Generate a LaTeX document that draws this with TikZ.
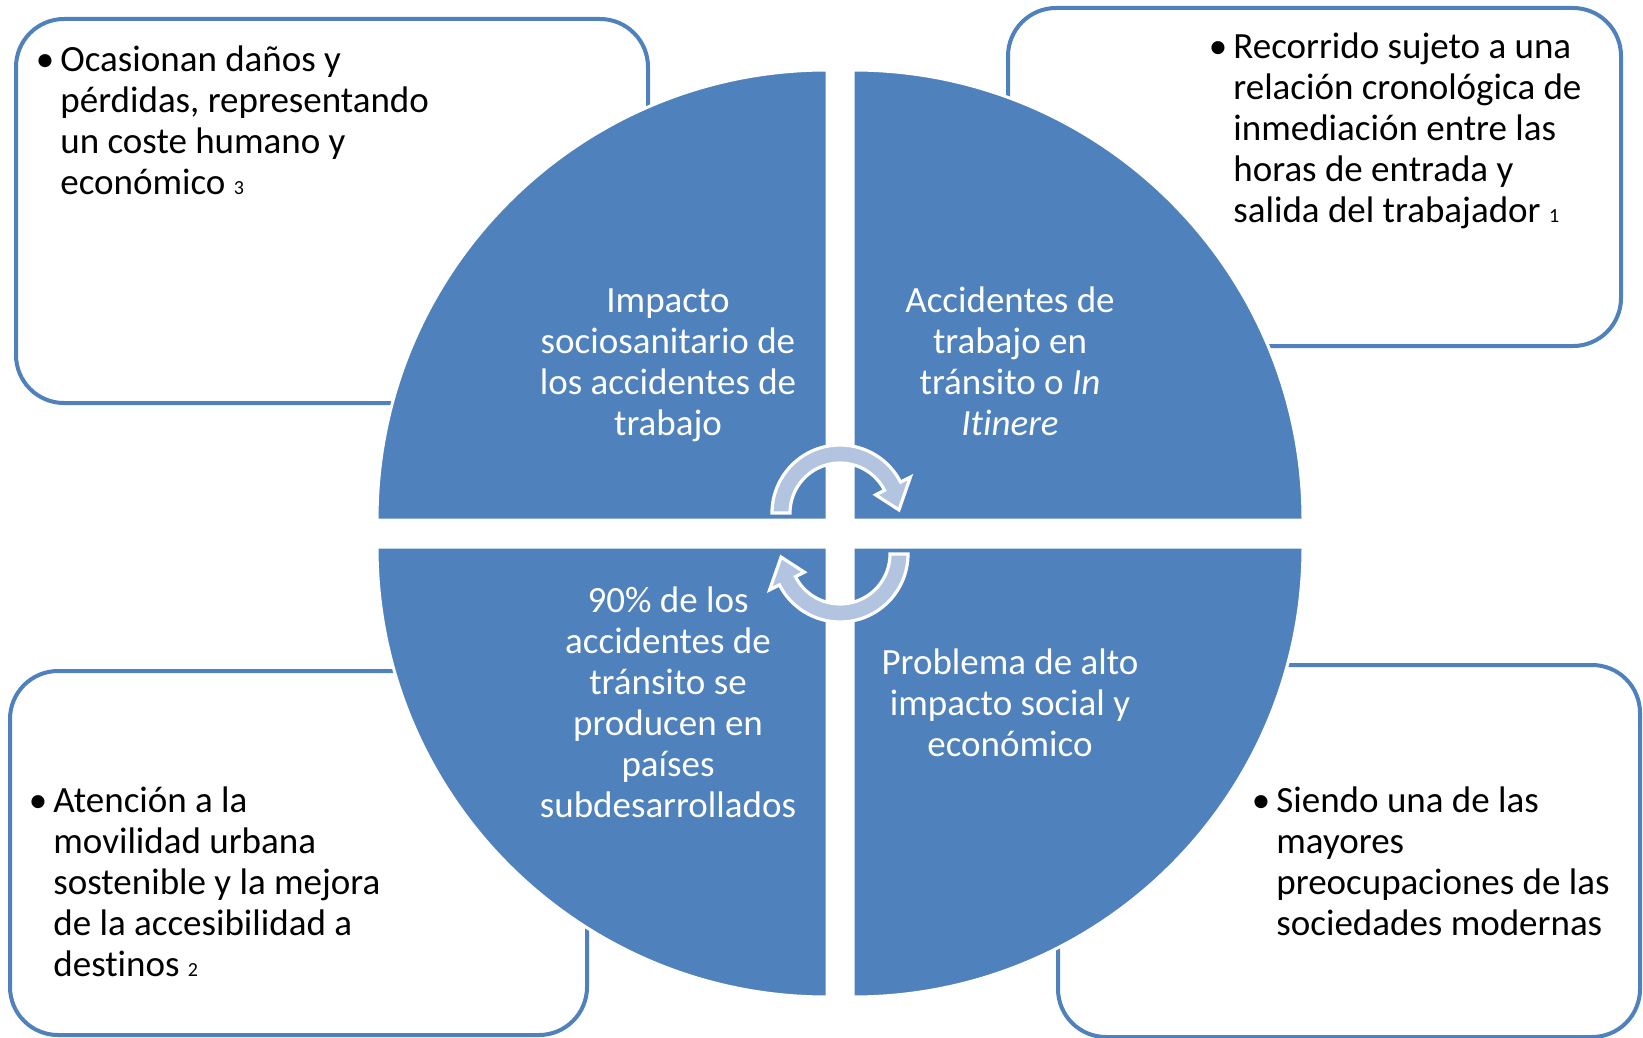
\documentclass[tikz,border=0pt]{standalone}
\usepackage{fontspec}
\setmainfont[Ligatures={NoCommon}]{Carlito}
\definecolor{qblue}{HTML}{4F81BD}
\definecolor{arrowblue}{HTML}{B3C4E0}
\newcommand{\smallnum}[1]{{\fontsize{10}{10}\selectfont #1}}
\newcommand{\bul}{\llap{•\hspace{3pt}}}
\newcommand{\fl}{\rule{0pt}{16pt}}
\begin{document}
\begin{tikzpicture}[x=0.5pt,y=-0.5pt,
  box/.style={draw=qblue, line width=2pt, fill=white, rounded corners=24pt},
  quad/.style={fill=qblue, draw=white, line width=1.5pt},
  cyc/.style={fill=arrowblue, draw=white, line width=1.6pt, line join=miter},
  qtext/.style={text=white, align=center, anchor=north, inner sep=0pt, font=\fontsize{18.5}{20.5}\selectfont},
  btext/.style={text=black, align=left, anchor=north west, inner sep=0pt, font=\fontsize{18.5}{20.5}\selectfont}]

\useasboundingbox[fill=white] (0,0) rectangle (1643,1038);

% outer boxes
\path[box] (16,19) rectangle (648,403);
\path[box] (1008,8) rectangle (1621,346);
\path[box] (10,671) rectangle (587,1035);
\path[box] (1058,665) rectangle (1640,1037);

% quadrants
\path[quad] (827,520) -- (377,520) arc[start angle=180, end angle=270, radius=450] -- cycle;
\path[quad] (853,520) -- (853,70) arc[start angle=270, end angle=360, radius=450] -- cycle;
\path[quad] (827,547) -- (827,997) arc[start angle=90, end angle=180, radius=450] -- cycle;
\path[quad] (853,547) -- (1303,547) arc[start angle=0, end angle=90, radius=450] -- cycle;

% circular arrows
\begin{scope}[shift={(840,513)}]
  \path[cyc] (180:68) arc[start angle=180, end angle=333, radius=68]
    -- (333:79) -- (357:59) -- (333:40) -- (333:50)
    arc[start angle=333, end angle=180, radius=50] -- cycle;
\end{scope}
\begin{scope}[shift={(840,554)}, rotate=180]
  \path[cyc] (180:68) arc[start angle=180, end angle=333, radius=68]
    -- (333:79) -- (357:59) -- (333:40) -- (333:50)
    arc[start angle=333, end angle=180, radius=50] -- cycle;
\end{scope}

% quadrant texts
\node[qtext] (q1) at (668,280) {\fl Impacto\\sociosanitario de\\los accidentes de\\trabajo};
\node[qtext] (q2) at (1010,280) {\fl Accidentes de\\trabajo en\\tránsito o \textit{In}\\\textit{Itinere}};
\node[qtext] (q3) at (668,580) {\fl 90\% de los\\accidentes de\\tránsito se\\producen en\\países\\subdesarrollados};
\node[qtext] (q4) at (1010,642) {\fl Problema de alto\\impacto social y\\económico};

% box texts
\node[btext] (b1) at (60,39) {\fl\bul Ocasionan daños y\\pérdidas, representando\\un coste humano y\\económico \smallnum{3}};
\node[btext] (b2) at (1233,26) {\fl\bul Recorrido sujeto a una\\relación cronológica de\\inmediación entre las\\horas de entrada y\\salida del trabajador \smallnum{1}};
\node[btext] (b3) at (53,780) {\fl\bul Atención a la\\movilidad urbana\\sostenible y la mejora\\de la accesibilidad a\\destinos \smallnum{2}};
\node[btext] (b4) at (1276,780) {\fl\bul Siendo una de las\\mayores\\preocupaciones de las\\sociedades modernas};
\end{tikzpicture}
\end{document}
